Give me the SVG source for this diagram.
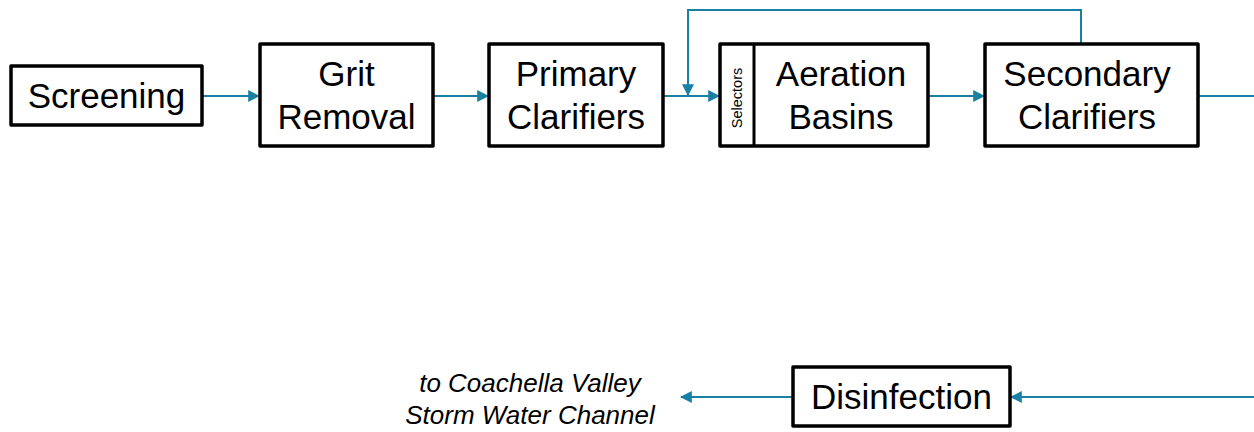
<svg xmlns="http://www.w3.org/2000/svg" width="1254" height="432" viewBox="0 0 1254 432">
<style>
.box{fill:#fff;stroke:#000;stroke-width:3.5;stroke-linejoin:round}
.lbl{font-family:"Liberation Sans",Arial,sans-serif;font-size:35px;fill:#000;text-anchor:middle}
.sel{font-family:"Liberation Sans",Arial,sans-serif;font-size:14.5px;fill:#000;text-anchor:middle}
.note{font-family:"Liberation Sans",Arial,sans-serif;font-size:26px;font-style:italic;fill:#000;text-anchor:middle}
.con{fill:none;stroke:#1a80a3;stroke-width:2}
</style>
<defs>
<marker id="ah" viewBox="0 0 10 10" refX="9" refY="5" markerWidth="6" markerHeight="6" markerUnits="strokeWidth" orient="auto">
<path d="M0,0 L10,5 L0,10 z" fill="#1a80a3"/>
</marker>
</defs>
<rect width="1254" height="432" fill="#fff"/>
<g id="connectors">
<line class="con" x1="203" y1="96" x2="259" y2="96" marker-end="url(#ah)"/>
<line class="con" x1="433" y1="96" x2="488" y2="96" marker-end="url(#ah)"/>
<line class="con" x1="663" y1="96" x2="719" y2="96" marker-end="url(#ah)"/>
<polyline class="con" points="1081,44 1081,10 688,10 688,95" marker-end="url(#ah)"/>
<line class="con" x1="928" y1="96" x2="984" y2="96" marker-end="url(#ah)"/>
<line class="con" x1="1198" y1="96" x2="1254" y2="96"/>
<line class="con" x1="1254" y1="397" x2="1011" y2="397" marker-end="url(#ah)"/>
<line class="con" x1="793" y1="397" x2="681" y2="397" marker-end="url(#ah)"/>
</g>
<g id="screening">
<rect class="box" x="11" y="66" width="191" height="59"/>
<text class="lbl" x="106.5" y="108">Screening</text>
</g>
<g id="grit-removal">
<rect class="box" x="260" y="44" width="173" height="102"/>
<text class="lbl" x="346.5" y="86">Grit</text>
<text class="lbl" x="346.5" y="129">Removal</text>
</g>
<g id="primary-clarifiers">
<rect class="box" x="489" y="44" width="174" height="102"/>
<text class="lbl" x="576" y="86">Primary</text>
<text class="lbl" x="576" y="129">Clarifiers</text>
</g>
<g id="aeration-basins">
<rect class="box" x="720" y="44" width="208" height="102"/>
<line x1="754" y1="44" x2="754" y2="146" stroke="#000" stroke-width="3"/>
<text class="sel" transform="translate(742,98) rotate(-90)">Selectors</text>
<text class="lbl" x="841" y="86">Aeration</text>
<text class="lbl" x="841" y="129">Basins</text>
</g>
<g id="secondary-clarifiers">
<rect class="box" x="985" y="44" width="213" height="102"/>
<text class="lbl" x="1087" y="86">Secondary</text>
<text class="lbl" x="1087" y="129">Clarifiers</text>
</g>
<g id="disinfection">
<rect class="box" x="793" y="367" width="217" height="59"/>
<text class="lbl" x="901.5" y="409">Disinfection</text>
</g>
<g id="discharge-note">
<text class="note" x="530" y="392">to Coachella Valley</text>
<text class="note" x="530" y="424">Storm Water Channel</text>
</g>
</svg>
